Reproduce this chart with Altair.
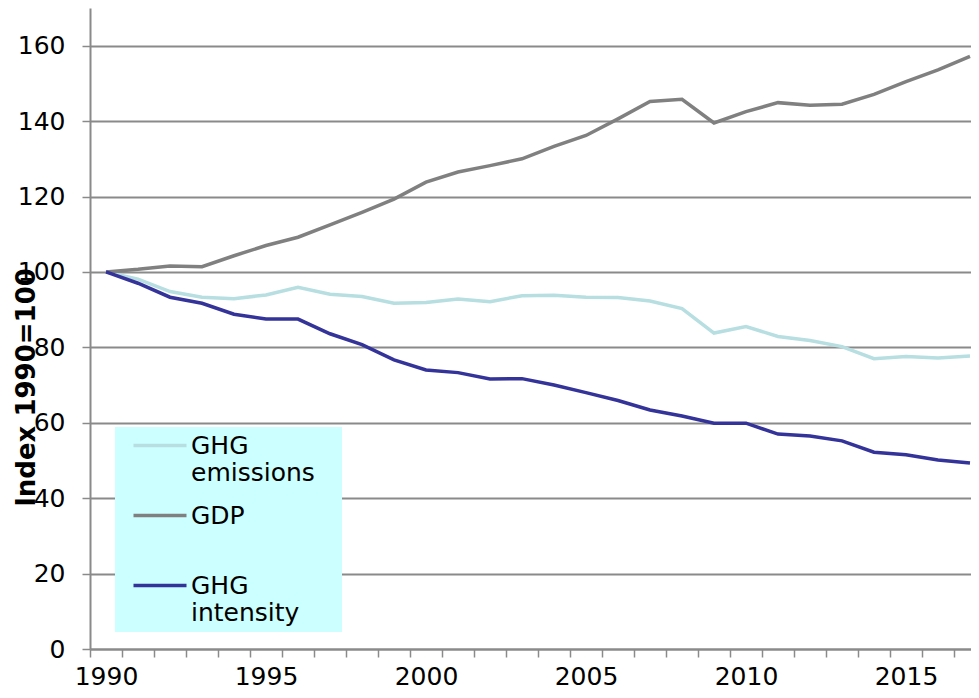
import altair as alt
import pandas as pd

years = list(range(1990, 2018))
ghg_emissions = [100, 98.1, 94.8, 93.3, 92.9, 93.9, 95.9, 94.1, 93.5, 91.7,
                 91.9, 92.8, 92.1, 93.7, 93.8, 93.3, 93.2, 92.3, 90.3, 83.8,
                 85.5, 82.9, 81.8, 80.2, 77.0, 77.6, 77.2, 77.7]
gdp = [100, 100.7, 101.6, 101.4, 104.3, 107.0, 109.2, 112.5, 115.8, 119.3,
       123.8, 126.5, 128.2, 130.0, 133.3, 136.2, 140.6, 145.2, 145.8, 139.5,
       142.5, 144.9, 144.2, 144.5, 147.1, 150.5, 153.6, 157.2]
ghg_intensity = [100, 97.0, 93.3, 91.7, 88.8, 87.5, 87.5, 83.6, 80.7, 76.7,
                 74.0, 73.3, 71.6, 71.7, 70.0, 68.0, 65.9, 63.4, 61.8, 59.9,
                 59.9, 57.0, 56.5, 55.2, 52.2, 51.5, 50.1, 49.3]

series_names = ["GHG emissions", "GDP", "GHG intensity"]
series_colors = ["#B7DEE1", "#808080", "#333399"]
y_ticks = [0, 20, 40, 60, 80, 100, 120, 140, 160]
x_label_years = [1990, 1995, 2000, 2005, 2010, 2015]

rows = []
for name, vals in zip(series_names, [ghg_emissions, gdp, ghg_intensity]):
    for yr, v in zip(years, vals):
        rows.append({"year": yr, "value": v, "series": name})
df = pd.DataFrame(rows)

PLOT_W = 881
PX_PER_YEAR = 32
x_min = years[0] - 0.5
x_max = x_min + PLOT_W / PX_PER_YEAR
boundaries = [y - 0.5 for y in years]

FONT = "DejaVu Sans"
GRID = "#8A8A8A"

label_expr = ("datum.label == 'GHG emissions' ? ['GHG', 'emissions\u2002\u00a0\u200b'] : "
              "datum.label == 'GDP' ? ['GDP', ' '] : ['GHG', 'intensity']")

x_scale = alt.Scale(domain=[x_min, x_max], nice=False, zero=False)
y_scale = alt.Scale(domain=[0, 170], nice=False)

y_enc = alt.Y("value:Q", scale=y_scale,
              axis=alt.Axis(values=y_ticks, title="Index 1990=100",
                            titleFont=FONT, titleFontSize=26, titleFontWeight="bold",
                            titleColor="black", titleAngle=270, titleAlign="center",
                            titleBaseline="middle", titleX=-64, titleY=379,
                            labelFont=FONT, labelFontSize=25, labelColor="black",
                            labelPadding=17, tickSize=8, tickWidth=1.5, tickColor=GRID,
                            domainColor=GRID, domainWidth=2,
                            grid=True, gridColor=GRID, gridWidth=2))

legend = alt.Legend(orient="none", legendX=25, legendY=419,
                    title=None, fillColor="#CCFFFF",
                    padding=6,
                    symbolType="M0,0H10.6",
                    symbolSize=100, symbolStrokeWidth=3.5,
                    labelFont=FONT, labelFontSize=25,
                    labelColor="black", labelOffset=45,
                    labelLimit=400, rowPadding=17,
                    labelExpr=label_expr)

lines = alt.Chart(df).mark_line(strokeWidth=3.5).encode(
    x=alt.X("year:Q", scale=x_scale,
            axis=alt.Axis(values=boundaries, title=None, grid=False, labels=False,
                          orient="bottom", tickSize=8, tickWidth=1.5, tickColor=GRID,
                          domainColor=GRID, domainWidth=2)),
    y=y_enc,
    color=alt.Color("series:N",
                    scale=alt.Scale(domain=series_names, range=series_colors),
                    legend=legend),
    order=alt.Order("year:Q"),
)

labels_layer = alt.Chart(df).mark_point(opacity=0).encode(
    x=alt.X("year:Q", scale=x_scale,
            axis=alt.Axis(values=x_label_years, title=None, grid=False,
                          orient="bottom", ticks=False, domain=False,
                          labelFont=FONT, labelFontSize=25, labelColor="black",
                          labelPadding=15, labelOverlap=False, labelFlush=False,
                          format="d")),
    y=y_enc,
)

chart = alt.layer(lines, labels_layer).resolve_axis(x="independent").properties(
    width=PLOT_W, height=641,
    autosize=alt.AutoSizeParams(type="none"),
    padding={"left": 82, "top": 0, "right": 0, "bottom": 41},
    background="white",
).configure_view(stroke=None)

chart.save("out.html", embed_options={"renderer": "svg", "actions": False})
